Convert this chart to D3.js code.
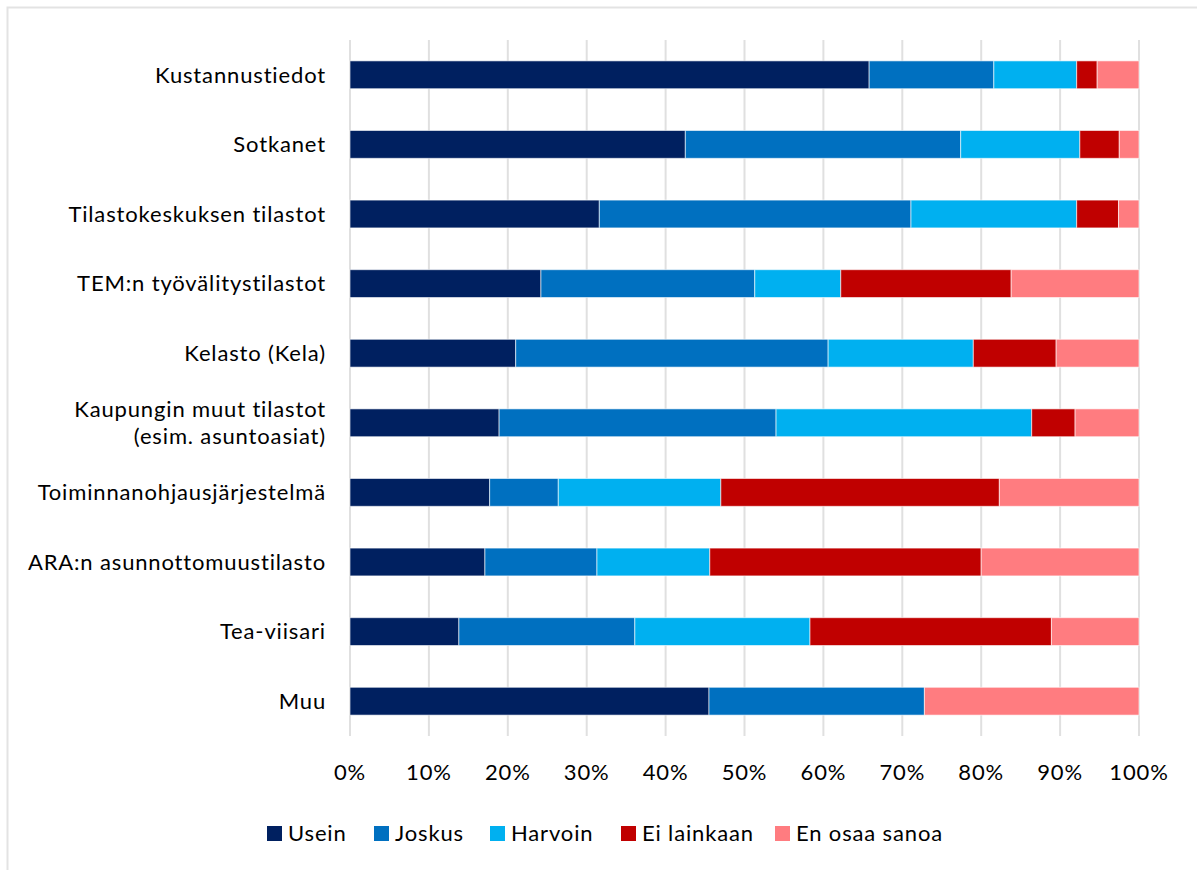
<!DOCTYPE html>
<html>
<head>
<meta charset="utf-8">
<script src="https://cdn.jsdelivr.net/npm/d3@7"></script>
<style>
  body { margin: 0; background: #fff; }
  text { font-family: Lato, "Open Sans", sans-serif; fill: #000; font-variant-ligatures: none; letter-spacing: 0.85px; }
</style>
</head>
<body>
<script>
// Categories and series (percent shares)
var categories = ["Kustannustiedot", "Sotkanet", "Tilastokeskuksen tilastot", "TEM:n työvälitystilastot",
  "Kelasto (Kela)", "Kaupungin muut tilastot\n(esim. asuntoasiat)", "Toiminnanohjausjärjestelmä",
  "ARA:n asunnottomuustilasto", "Tea-viisari", "Muu"];
var seriesNames = ["Usein", "Joskus", "Harvoin", "Ei lainkaan", "En osaa sanoa"];
var usein      = [65.8, 42.5, 31.6, 24.2, 21.0, 18.9, 17.7, 17.1, 13.8, 45.5];
var joskus     = [15.8, 34.9, 39.5, 27.1, 39.6, 35.1,  8.7, 14.2, 22.3, 27.3];
var harvoin    = [10.5, 15.1, 21.0, 10.9, 18.4, 32.4, 20.6, 14.3, 22.2,  0.0];
var eiLainkaan = [ 2.6,  5.0,  5.3, 21.6, 10.5,  5.5, 35.3, 34.4, 30.6,  0.0];
var enOsaa     = [ 5.3,  2.5,  2.6, 16.2, 10.5,  8.1, 17.7, 20.0, 11.1, 27.2];
var ticks = [0, 10, 20, 30, 40, 50, 60, 70, 80, 90, 100];
var colors = ["#002060", "#0070c0", "#00b0f0", "#c00000", "#ff7c80"];

var svg = d3.select("body").append("svg")
  .attr("width", 1197)
  .attr("height", 870);

// outer chart border
svg.append("rect")
  .attr("x", 7.5).attr("y", 7.5)
  .attr("width", 1300).attr("height", 1000)
  .attr("fill", "none")
  .attr("stroke", "#e3e3e3")
  .attr("stroke-width", 2);

var plotLeft = 350, plotRight = 1139, plotTop = 40, plotBottom = 736;

var x = d3.scaleLinear().domain([0, 100]).range([plotLeft, plotRight]);
var y = d3.scaleBand().domain(categories).range([plotTop, plotBottom]).paddingInner(0.6).paddingOuter(0.3);

// gridlines
svg.append("g").selectAll("line")
  .data(ticks)
  .enter().append("line")
  .attr("x1", function(d) { return x(d); })
  .attr("x2", function(d) { return x(d); })
  .attr("y1", plotTop)
  .attr("y2", plotBottom)
  .attr("stroke", "#e0e0e0")
  .attr("stroke-width", 2);

// build stacked data
var rows = categories.map(function(c, i) {
  return { cat: c, "Usein": usein[i], "Joskus": joskus[i], "Harvoin": harvoin[i],
           "Ei lainkaan": eiLainkaan[i], "En osaa sanoa": enOsaa[i] };
});
var stack = d3.stack().keys(seriesNames)(rows);

svg.append("g").selectAll("g")
  .data(stack)
  .enter().append("g")
  .attr("fill", function(d, i) { return colors[i]; })
  .selectAll("rect")
  .data(function(d) { return d.filter(function(s) { return s[1] - s[0] > 0; }); })
  .enter().append("rect")
  .attr("x", function(d) { return x(d[0]); })
  .attr("y", function(d) { return y(d.data.cat); })
  .attr("width", function(d) { return x(d[1]) - x(d[0]); })
  .attr("height", y.bandwidth())
  .attr("stroke", "#fff")
  .attr("stroke-opacity", 0.6)
  .attr("stroke-width", 1);

// category labels
var labels = svg.append("g").selectAll("text")
  .data(categories)
  .enter().append("text")
  .attr("x", plotLeft - 24)
  .attr("y", function(d) { return y(d) + y.bandwidth() / 2; })
  .attr("text-anchor", "end")
  .style("font-size", "22px");

labels.each(function(d) {
  var lines = d.split("\n");
  var t = d3.select(this);
  lines.forEach(function(l, k) {
    t.append("tspan")
      .attr("x", plotLeft - 24)
      .attr("dy", k === 0 ? (0.35 - (lines.length - 1) * 0.6) + "em" : "1.2em")
      .text(l);
  });
});

// x axis tick labels
svg.append("g").selectAll("text")
  .data(ticks)
  .enter().append("text")
  .attr("x", function(d) { return x(d); })
  .attr("y", 780)
  .attr("text-anchor", "middle")
  .style("font-size", "22px")
  .text(function(d) { return d + "%"; });

// legend
var legendX = [267, 374, 490, 621, 775];
var legend = svg.append("g").selectAll("g")
  .data(seriesNames)
  .enter().append("g")
  .attr("transform", function(d, i) { return "translate(" + legendX[i] + ",826)"; });
legend.append("rect")
  .attr("width", 15).attr("height", 15)
  .attr("fill", function(d, i) { return colors[i]; });
legend.append("text")
  .attr("x", 21)
  .attr("y", 15)
  .style("font-size", "22px")
  .text(function(d) { return d; });
</script>
</body>
</html>
